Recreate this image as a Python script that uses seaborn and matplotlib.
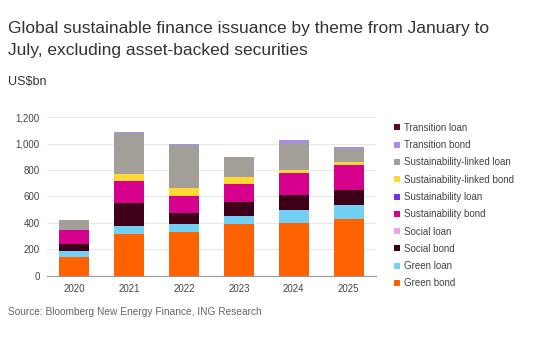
import numpy as np
import matplotlib
matplotlib.use("Agg")
import matplotlib.pyplot as plt
from matplotlib.lines import Line2D
import seaborn as sns

years = ["2020", "2021", "2022", "2023", "2024", "2025"]

# US$bn (bottom to top of each stack)
green_bond = [139, 316, 332, 392, 397, 433]
green_loan = [51, 59, 58, 64, 104, 104]
social_bond = [53, 177, 86, 101, 107, 114]
social_loan = [0, 0, 0, 0, 0, 0]
sustainability_bond = [104, 164, 124, 139, 169, 190]
sustainability_loan = [0, 0, 0, 0, 0, 0]
sll_bond = [0, 56, 63, 51, 20, 20]
sll_loan = [73, 309, 327, 149, 206, 98]
transition_bond = [0, 10, 7, 0, 27, 16]
transition_loan = [0, 0, 0, 5, 0, 0]

themes = ["Green bond", "Green loan", "Social bond", "Social loan",
          "Sustainability bond", "Sustainability loan",
          "Sustainability-linked bond", "Sustainability-linked loan",
          "Transition bond", "Transition loan"]
series = [green_bond, green_loan, social_bond, social_loan,
          sustainability_bond, sustainability_loan, sll_bond, sll_loan,
          transition_bond, transition_loan]
colors = ["#FF6200", "#72D0F4", "#3E0018", "#F2A0EC",
          "#D6008C", "#7A2FE0", "#FFD835", "#A39E98",
          "#A98CEB", "#5C0B22"]

sns.set_style("white")
plt.rcParams["font.family"] = ["Liberation Sans", "DejaVu Sans"]

fig = plt.figure(figsize=(5.38, 3.55), dpi=100)
ax = fig.add_axes([0.087, 0.223, 0.612, 0.447])

# stacked bars: draw cumulative totals from the top layer down
cum = np.cumsum(np.array(series), axis=0)
for i in range(len(series) - 1, -1, -1):
    sns.barplot(x=years, y=cum[i], color=colors[i], saturation=1,
                width=0.55, linewidth=0, ax=ax)

ax.set_ylim(0, 1200)
ax.set_xlim(-0.5, 5.5)
ax.set_yticks(range(0, 1201, 200))
ax.set_yticklabels([f"{v:,}" for v in range(0, 1201, 200)])
ax.yaxis.grid(True, color="#e8e8e8", linewidth=0.8)
ax.set_axisbelow(True)
ax.set_xlabel("")
ax.set_ylabel("")
for s in ["top", "right", "left"]:
    ax.spines[s].set_visible(False)
ax.spines["bottom"].set_color("#999999")
ax.spines["bottom"].set_linewidth(0.8)
ax.set_xticks(np.arange(-0.5, 6, 1), minor=True)
ax.tick_params(axis="x", which="major", length=0, labelsize=7, colors="#444444", pad=6)
ax.tick_params(axis="x", which="minor", length=4, width=0.6, color="#999999", direction="out")
ax.tick_params(axis="y", length=0, labelsize=7, colors="#444444", pad=5)

fig.text(0.015, 0.94, "Global sustainable finance issuance by theme from January to\nJuly, excluding asset-backed securities",
         fontsize=12.5, color="#333333", va="top", linespacing=1.6)
fig.text(0.015, 0.77, "US$bn", fontsize=9, color="#333333", va="center")
fig.text(0.015, 0.122, "Source: Bloomberg New Energy Finance, ING Research",
         fontsize=7.3, color="#666666", va="center")

handles = [Line2D([], [], marker="s", linestyle="", markersize=4,
                  markerfacecolor=c, markeredgewidth=0) for c in colors]
fig.legend(handles[::-1], themes[::-1], loc="upper left",
           bbox_to_anchor=(0.725, 0.665), frameon=False, fontsize=7,
           labelcolor="#444444", handlelength=0.6, handletextpad=0.4,
           labelspacing=0.75, borderaxespad=0)

fig.savefig("out.png", dpi=100)
